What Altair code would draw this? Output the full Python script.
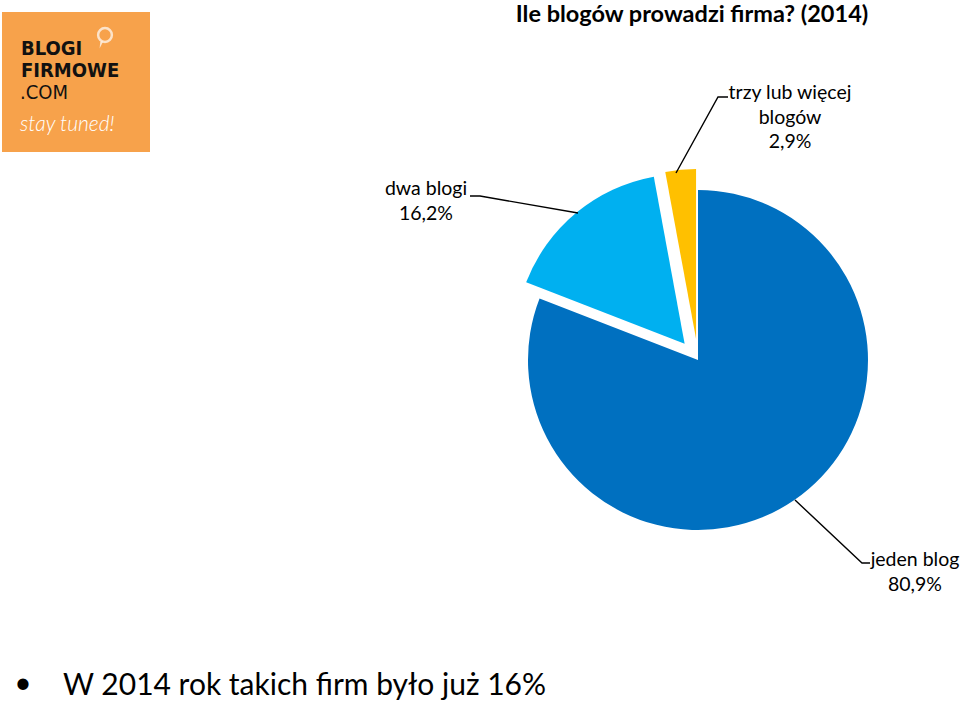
import altair as alt
import pandas as pd

# ---------------- data ----------------
CATEGORIES = ["jeden blog", "dwa blogi", "trzy lub więcej blogów"]
VALUES = [80.9, 16.2, 2.9]
LABEL_NAMES = ["jeden blog", "dwa blogi", "trzy lub więcej\nblogów"]
TITLE = "Ile blogów prowadzi firma? (2014)"
BULLET = "W 2014 rok takich firm było już 16%"

# ---------------- styling / layout ----------------
COLORS = ["#0070C0", "#00B0F0", "#FFC000"]
EXPLODE = [0, 21, 21]
CX, CY, R = 698, 360, 170
W, H = 960, 702
FONT = "Lato"

# label anchor positions (x center, first-line baseline)
LABEL_POS = [(915, 566), (426, 195), (790, 99)]
# leader lines (label side -> slice side)
LEADERS = [
    [(870, 563), (862, 563), (795, 500)],
    [(470, 196), (480, 196), (578, 213)],
    [(728, 97), (718, 97), (676, 173)],
]

pie_df = pd.DataFrame({
    "category": CATEGORIES,
    "value": VALUES,
    "order": list(range(len(CATEGORIES))),
    "explode": EXPLODE,
})

pie = alt.Chart(pie_df).mark_arc(outerRadius=R, stroke=None).transform_window(
    cum="sum(value)", sort=[alt.SortField("order")], frame=[None, 0]
).transform_joinaggregate(
    total="sum(value)"
).transform_calculate(
    t0="2*PI*(datum.cum - datum.value)/datum.total",
    t1="2*PI*datum.cum/datum.total",
).transform_calculate(
    mid="(datum.t0 + datum.t1)/2"
).transform_calculate(
    px=f"{CX} + datum.explode*sin(datum.mid)",
    py=f"{CY} - datum.explode*cos(datum.mid)",
).encode(
    theta=alt.Theta("t0:Q", scale=None),
    theta2="t1:Q",
    x=alt.X("px:Q", scale=None, axis=None),
    y=alt.Y("py:Q", scale=None, axis=None),
    color=alt.Color("category:N", scale=alt.Scale(domain=CATEGORIES, range=COLORS), legend=None),
)

# leader lines
lrows = []
for gi, pts in enumerate(LEADERS):
    for si, (x, y) in enumerate(pts):
        lrows.append({"g": gi, "s": si, "x": x, "y": y})
lead = alt.Chart(pd.DataFrame(lrows)).mark_line(color="#000000", strokeWidth=1.4).encode(
    x=alt.X("x:Q", scale=None, axis=None),
    y=alt.Y("y:Q", scale=None, axis=None),
    detail="g:N",
    order="s:Q",
)

# labels
lab_rows = []
for name, v, (x, y) in zip(LABEL_NAMES, VALUES, LABEL_POS):
    lab_rows.append({"t": name + "\n" + f"{v:.1f}".replace(".", ",") + "%", "x": x, "y": y})
labels = alt.Chart(pd.DataFrame(lab_rows)).mark_text(
    font=FONT, fontSize=19.5, color="#000000", align="center", baseline="alphabetic",
    lineBreak="\n", lineHeight=24.5,
).encode(
    x=alt.X("x:Q", scale=None, axis=None),
    y=alt.Y("y:Q", scale=None, axis=None),
    text="t:N",
)

one = pd.DataFrame({"a": [0]})

title = alt.Chart(one).mark_text(
    text=TITLE, font=FONT, fontSize=23.5, fontWeight="bold", color="#000000",
    align="center", baseline="alphabetic",
).encode(x=alt.value(692), y=alt.value(22))

bullet_dot = alt.Chart(one).mark_text(
    text="•", font=FONT, fontSize=30, color="#000000", align="center", baseline="alphabetic",
).encode(x=alt.value(23), y=alt.value(693))

bullet = alt.Chart(one).mark_text(
    text=BULLET, font=FONT, fontSize=30, color="#000000", align="left", baseline="alphabetic",
).encode(x=alt.value(63), y=alt.value(695))

# logo
logo_bg = alt.Chart(one).mark_rect(color="#F7A24B").encode(
    x=alt.value(2), x2=alt.value(150), y=alt.value(12), y2=alt.value(152)
)
logo_b = alt.Chart(one).mark_text(
    text="BLOGI", font="DejaVu Sans Condensed", fontSize=20, fontWeight="bold",
    color="#111111", align="left", baseline="alphabetic",
).encode(x=alt.value(21), y=alt.value(55))
logo_f = alt.Chart(one).mark_text(
    text="FIRMOWE", font="DejaVu Sans Condensed", fontSize=20, fontWeight="bold",
    color="#111111", align="left", baseline="alphabetic",
).encode(x=alt.value(21), y=alt.value(77))
logo_c = alt.Chart(one).mark_text(
    text=".COM", font="DejaVu Sans Condensed", fontSize=20, fontWeight="normal",
    color="#111111", align="left", baseline="alphabetic",
).encode(x=alt.value(20), y=alt.value(99))
logo_s = alt.Chart(one).mark_text(
    text="stay tuned!", font=FONT, fontSize=21, fontStyle="italic", fontWeight=300,
    color="#FFFFFF", align="left", baseline="alphabetic",
).encode(x=alt.value(20), y=alt.value(131))
bubble = alt.Chart(one).mark_point(
    shape="circle", filled=False, stroke="#FFFFFF", strokeWidth=2.5, size=190,
).encode(x=alt.value(105), y=alt.value(35))
bubble_tail = alt.Chart(one).mark_point(
    shape="M -0.2 -1 L 0.6 -1 L -0.4 1 Z", filled=True, fill="#FFFFFF", stroke=None, size=50,
).encode(x=alt.value(101), y=alt.value(45))

chart = alt.layer(
    logo_bg, logo_b, logo_f, logo_c, logo_s, bubble, bubble_tail,
    title, pie, lead, labels, bullet_dot, bullet,
).properties(
    width=W, height=H, padding=0,
    autosize=alt.AutoSizeParams(type="none"),
    background="#FFFFFF",
).configure_view(stroke=None)

chart.save("out.html", embed_options={"renderer": "svg", "actions": False})
